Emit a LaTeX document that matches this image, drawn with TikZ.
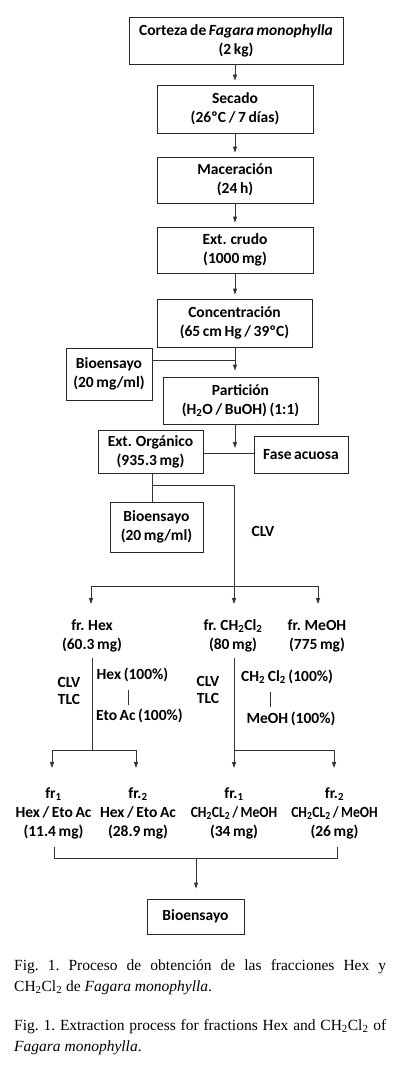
\documentclass[tikz,border=0pt]{standalone}
\usepackage{fontspec}
\usepackage{graphicx}
\setmainfont{Liberation Serif}
\newfontfamily\diag{Carlito}[WordSpace=0.75]
\usetikzlibrary{arrows.meta}
\newcommand{\chmeoh}{\scalebox{0.88}[1]{CH\textsubscript{2}CL\textsubscript{2} / MeOH}}
\begin{document}
\begin{tikzpicture}[x=1pt,y=-1pt,
 every node/.style={inner sep=0pt},
 txt/.style={align=center, font=\diag\bfseries\fontsize{15.5}{19}\selectfont},
 box/.style={txt, draw=black!85, line width=0.8pt},
 ln/.style={draw=black!80, line width=0.8pt},
 arr/.style={ln, -{Triangle[length=6pt,width=4pt]}},
 captxt/.style={anchor=base west, font=\fontsize{15.5}{21}\selectfont\frenchspacing}
]
\useasboundingbox (0,0) rectangle (400,1070);
\fill[white] (0,0) rectangle (400,1070);

% main boxes
\node[box, minimum width=214, minimum height=47] (b1) at (236,40.5) {Corteza de \textit{Fagara monophylla}\\(2 kg)};
\node[box, minimum width=156, minimum height=48] (b2) at (235,109) {Secado\\(26ºC / 7 días)};
\node[box, minimum width=156, minimum height=46] (b3) at (235,180) {Maceración\\(24 h)};
\node[box, minimum width=156, minimum height=46] (b4) at (235,250) {Ext. crudo\\(1000 mg)};
\node[box, minimum width=155, minimum height=48] (b5) at (234.5,323) {Concentración\\(65 cm Hg / 39ºC)};
\node[box, minimum width=86, minimum height=52] (bio1) at (109,374) {Bioensayo\\(20 mg/ml)};
\node[box, minimum width=155, minimum height=47] (b6) at (240.5,400.5) {Partición\\(H\textsubscript{2}O / BuOH) (1:1)};
\node[box, minimum width=105, minimum height=43] (eo) at (150.5,451.5) {Ext. Orgánico\\(935.3 mg)};
\node[box, minimum width=94, minimum height=37] (fa) at (301,454.5) {Fase acuosa};
\node[box, minimum width=93, minimum height=50] (bio2) at (156.5,527) {Bioensayo\\(20 mg/ml)};
\node[box, minimum width=97, minimum height=35] (bio3) at (195.5,916.5) {Bioensayo};

% labels
\node[txt] (clv) at (263,531) {CLV};
\node[txt] (fhex) at (92,636) {fr. Hex\\(60.3 mg)};
\node[txt] (fch) at (233,636) {fr. CH\textsubscript{2}Cl\textsubscript{2}\\(80 mg)};
\node[txt] (fme) at (317,636) {fr. MeOH\\(775 mg)};
\node[txt, font=\diag\bfseries\fontsize{15.5}{17}\selectfont] (clvL) at (69,691) {CLV\\TLC};
\node[txt, anchor=west] (hex100) at (96.5,675) {Hex (100\%)};
\node[txt, anchor=west] (eto100) at (96,716) {Eto Ac (100\%)};
\node[txt, font=\diag\bfseries\fontsize{15.5}{17}\selectfont] (clvR) at (208,690) {CLV\\TLC};
\node[txt, anchor=west] (ch100) at (241,677) {CH\textsubscript{2} Cl\textsubscript{2} (100\%)};
\node[txt] (me100) at (291,719) {MeOH (100\%)};
\node[txt] (fr1) at (53.5,813) {fr\textsubscript{1}\\Hex / Eto Ac\\(11.4 mg)};
\node[txt] (fr2) at (138,813) {fr.\textsubscript{2}\\Hex / Eto Ac\\(28.9 mg)};
\node[txt] (fr3) at (234,813) {fr.\textsubscript{1}\\\chmeoh\\(34 mg)};
\node[txt] (fr4) at (334.5,813) {fr.\textsubscript{2}\\\chmeoh\\(26 mg)};

% junction coordinates
\coordinate (j1) at (235,360);
\coordinate (j2) at (235,453);
\coordinate (j2t) at (235,448);
\coordinate (j3) at (152,485);
\coordinate (j4) at (234,485);
\coordinate (j5) at (234,586);
\coordinate (hL) at (91,586);
\coordinate (hR) at (318,586);
\coordinate (tL) at (91,604);
\coordinate (tM) at (234,604);
\coordinate (tR) at (318,604);
\coordinate (vL) at (92,658);
\coordinate (vLb) at (92,750);
\coordinate (aL1) at (52,750);
\coordinate (aL2) at (136,750);
\coordinate (vR) at (234,658);
\coordinate (vRb) at (234,750);
\coordinate (aR2) at (334,750);
\coordinate (uL1) at (52,768);
\coordinate (uL2) at (136,768);
\coordinate (uR1) at (234,768);
\coordinate (uR2) at (334,768);
\coordinate (sL1) at (128,690);
\coordinate (sL2) at (128,705);
\coordinate (sR1) at (270.5,692);
\coordinate (sR2) at (270.5,707);
\coordinate (k1) at (54,847);
\coordinate (k2) at (337,847);
\coordinate (k3) at (196,858);

% connectors
\draw[arr, shorten >=4pt] (b1.south -| b2.north) -- (b2.north);
\draw[arr, shorten >=4pt] (b2.south) -- (b3.north);
\draw[arr, shorten >=4pt] (b3.south) -- (b4.north);
\draw[arr, shorten >=4pt] (b4.south) -- (b4.south |- b5.north);
\draw[arr, shorten >=6pt] (b5.south -| j1) -- (b6.north -| j1);
\draw[ln] (bio1.east |- j1) -- (j1);
\draw[arr] (b6.south -| j2) -- (j2t);
\draw[ln] (eo.east |- j2) -- (fa.west |- j2);
\draw[ln] (eo.south -| j3) -- (bio2.north -| j3);
\draw[ln] (j3) -- (j4) -- (j5);
\draw[ln] (hL) -- (hR);
\draw[arr] (hL) -- (tL);
\draw[arr] (j5) -- (tM);
\draw[arr] (hR) -- (tR);
\draw[ln] (vL) -- (vLb);
\draw[ln] (aL1) -- (aL2);
\draw[arr] (aL1) -- (uL1);
\draw[arr] (aL2) -- (uL2);
\draw[ln] (vR) -- (vRb) -- (aR2);
\draw[arr] (vRb) -- (uR1);
\draw[arr] (aR2) -- (uR2);
\draw[ln] (sL1) -- (sL2);
\draw[ln] (sR1) -- (sR2);
\draw[ln] (k1) -- (k1 |- k3) -- (k2 |- k3) -- (k2);
\draw[arr, shorten >=10pt] (k3) -- (k3 |- bio3.north);

% captions
\node[captxt] (c1) at (14,970) {\makebox[372pt][s]{Fig. 1. Proceso de obtención de las fracciones Hex y}};
\node[captxt] (c2) at (14,991) {CH\textsubscript{2}Cl\textsubscript{2} de \textit{Fagara monophylla}.};
\node[captxt] (c3) at (14,1030) {\makebox[372pt][s]{Fig. 1. Extraction process for fractions Hex and CH\textsubscript{2}Cl\textsubscript{2} of}};
\node[captxt] (c4) at (14,1051) {\textit{Fagara monophylla}.};
\end{tikzpicture}
\end{document}
